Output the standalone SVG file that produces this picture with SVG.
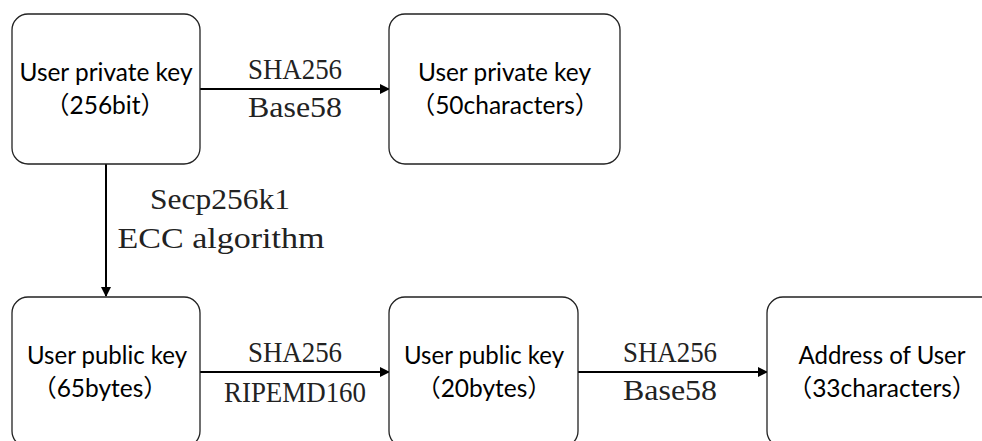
<svg xmlns="http://www.w3.org/2000/svg" width="982" height="441" viewBox="0 0 982 441">
<style>
.box{fill:#fff;stroke:#222;stroke-width:1.3}
.nt{font-family:Lato,"Noto Sans","Noto Sans CJK SC",sans-serif;font-size:24.5px;fill:#000;text-anchor:middle}
.el{font-family:"Liberation Serif","Noto Sans CJK SC",serif;font-size:30px;fill:#222;text-anchor:middle}
.ln{stroke:#000;stroke-width:2;fill:none}
</style>
<defs>
<marker id="ah" markerWidth="10" markerHeight="10" refX="9" refY="5" orient="auto" markerUnits="userSpaceOnUse">
<path d="M0,0 L10,5 L0,10 Z" fill="#000"/>
</marker>
</defs>
<rect width="982" height="441" fill="#fff"/>
<g id="connectors">
<line class="ln" x1="200" y1="89" x2="389" y2="89" marker-end="url(#ah)"/>
<line class="ln" x1="106" y1="164" x2="106" y2="296" marker-end="url(#ah)"/>
<line class="ln" x1="200" y1="372" x2="389" y2="372" marker-end="url(#ah)"/>
<line class="ln" x1="578" y1="372" x2="767" y2="372" marker-end="url(#ah)"/>
<text class="el" x="295" y="79" textLength="94" lengthAdjust="spacingAndGlyphs">SHA256</text>
<text class="el" x="295" y="117" textLength="94" lengthAdjust="spacingAndGlyphs">Base58</text>
<text class="el" x="220" y="209" textLength="140" lengthAdjust="spacingAndGlyphs">Secp256k1</text>
<text class="el" x="221" y="248" textLength="207" lengthAdjust="spacingAndGlyphs">ECC algorithm</text>
<text class="el" x="295" y="362" textLength="94" lengthAdjust="spacingAndGlyphs">SHA256</text>
<text class="el" x="295" y="402" textLength="142" lengthAdjust="spacingAndGlyphs">RIPEMD160</text>
<text class="el" x="670" y="362" textLength="94" lengthAdjust="spacingAndGlyphs">SHA256</text>
<text class="el" x="670" y="400" textLength="94" lengthAdjust="spacingAndGlyphs">Base58</text>
</g>
<g id="node-private-256">
<rect class="box" x="12" y="14" width="188" height="150" rx="16"/>
<text class="nt" x="106" y="81" textLength="173" lengthAdjust="spacingAndGlyphs">User private key</text>
<text class="nt" x="105" y="114">（256bit）</text>
</g>
<g id="node-private-50">
<rect class="box" x="389" y="14" width="231" height="150" rx="16"/>
<text class="nt" x="504.5" y="81" textLength="173" lengthAdjust="spacingAndGlyphs">User private key</text>
<text class="nt" x="505" y="114">（50characters）</text>
</g>
<g id="node-public-65">
<rect class="box" x="12" y="297" width="188" height="150" rx="16"/>
<text class="nt" x="107" y="364" textLength="160" lengthAdjust="spacingAndGlyphs">User public key</text>
<text class="nt" x="100" y="397">（65bytes）</text>
</g>
<g id="node-public-20">
<rect class="box" x="389" y="297" width="189" height="150" rx="16"/>
<text class="nt" x="484" y="364" textLength="160" lengthAdjust="spacingAndGlyphs">User public key</text>
<text class="nt" x="484" y="397">（20bytes）</text>
</g>
<g id="node-address">
<rect class="box" x="767" y="297" width="240" height="150" rx="16"/>
<text class="nt" x="882" y="364" textLength="167" lengthAdjust="spacingAndGlyphs">Address of User</text>
<text class="nt" x="882" y="397">（33characters）</text>
</g>
</svg>
